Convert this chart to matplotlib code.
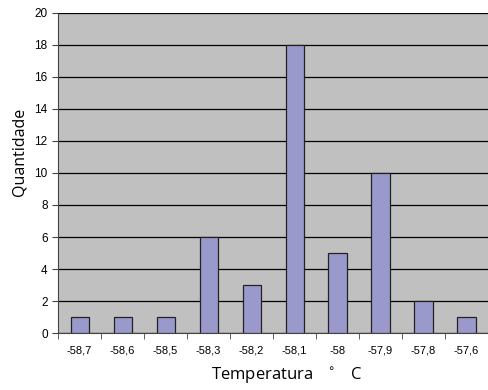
import matplotlib
matplotlib.use("Agg")
import matplotlib.pyplot as plt
import numpy as np

# temperaturas (categorias) e contagens
temperaturas = ["-58,7", "-58,6", "-58,5", "-58,3", "-58,2", "-58,1", "-58", "-57,9", "-57,8", "-57,6"]
quantidade = [1, 1, 1, 6, 3, 18, 5, 10, 2, 1]

fig = plt.figure(figsize=(4.88, 3.9), dpi=100)
ax = fig.add_axes([0.119, 0.146, 0.881, 0.821])
ax.set_facecolor("#c0c0c0")

x = np.arange(len(temperaturas))
ax.bar(x, quantidade, width=0.42, color="#9999cc", edgecolor="#222222", linewidth=0.9, zorder=3)

ax.set_xlim(-0.5, len(temperaturas) - 0.5)
ax.set_ylim(0, 20)
ax.set_yticks(range(0, 21, 2))
ax.yaxis.grid(True, color="black", linewidth=0.9, zorder=1)
ax.set_axisbelow(True)

ax.set_xticks(x)
ax.set_xticklabels(temperaturas, fontsize=8, family="Liberation Sans")
ax.set_xticks(np.arange(-0.5, len(temperaturas), 1), minor=True)
ax.tick_params(axis="x", which="major", length=0, pad=9)
ax.tick_params(axis="x", which="minor", length=4, direction="out", color="#444444")
ax.tick_params(axis="y", labelsize=8.5, length=4, direction="out", color="#444444")
for lbl in ax.get_yticklabels():
    lbl.set_family("Liberation Sans")

for side in ["top", "right"]:
    ax.spines[side].set_visible(False)
ax.spines["left"].set_color("#444444")
ax.spines["bottom"].set_color("#444444")

ax.set_ylabel("Quantidade", fontsize=11.5, family="Open Sans")
ax.yaxis.set_label_coords(-0.07, 0.565)
ax.set_xlabel(r"Temperatura   $^\circ$   C", fontsize=12, family="Open Sans")
ax.xaxis.set_label_coords(0.533, -0.1)

fig.savefig("out.png", dpi=100)
